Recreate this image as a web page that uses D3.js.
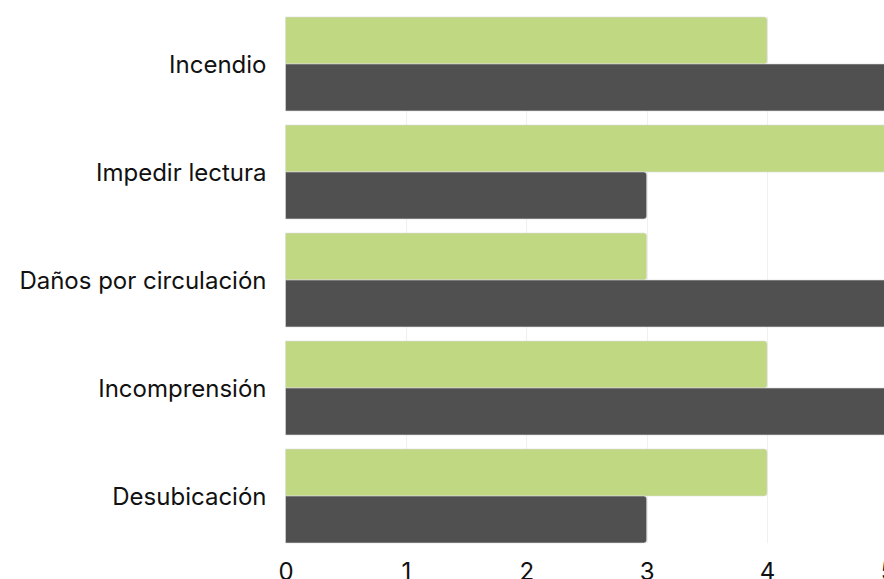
<!DOCTYPE html>
<html>
<head>
<meta charset="utf-8">
<script src="https://cdn.jsdelivr.net/npm/d3@7"></script>
<style>
  body { margin: 0; background: #fff; }
  text { font-family: Inter, "Noto Sans", sans-serif; }
</style>
</head>
<body>
<div id="chart"></div>
<script>

    const WIDTH = 884;
    const HEIGHT = 579;

    // chart data
    const categories = ["Incendio", "Impedir lectura", "Daños por circulación", "Incomprensión", "Desubicación"];
    const greenValues = [4, 5, 3, 4, 4];
    const darkValues = [5, 3, 5, 5, 3];
    const xTicks = [0, 1, 2, 3, 4, 5];

    const seriesKeys = ["green", "dark"];
    const seriesColor = {green: "#c0d882", dark: "#505050"};

    const rows = categories.map(function (c, i) {
        return {cat: c, green: greenValues[i], dark: darkValues[i]};
    });

    const svg = d3.select("#chart").append("svg")
        .attr("width", WIDTH)
        .attr("height", HEIGHT);

    const x = d3.scaleLinear().domain([0, 5]).range([285.5, 887.5]);
    const y = d3.scaleBand().domain(categories).range([17, 543]).paddingInner(0.13).paddingOuter(0);
    const ySub = d3.scaleBand().domain(seriesKeys).range([0, y.bandwidth()]);

    // faint gridlines
    svg.append("g")
        .selectAll("line")
        .data(xTicks.slice(1))
        .join("line")
        .attr("x1", d => Math.round(x(d)) + 0.5)
        .attr("x2", d => Math.round(x(d)) + 0.5)
        .attr("y1", 17)
        .attr("y2", 543)
        .attr("stroke", "#f0f0f0")
        .attr("stroke-width", 1);

    // rounded-right bar path
    function barPath(x0, y0, w, h, r) {
        r = Math.min(r, w, h / 2);
        return "M" + x0 + "," + y0 +
            "H" + (x0 + w - r) +
            "Q" + (x0 + w) + "," + y0 + " " + (x0 + w) + "," + (y0 + r) +
            "V" + (y0 + h - r) +
            "Q" + (x0 + w) + "," + (y0 + h) + " " + (x0 + w - r) + "," + (y0 + h) +
            "H" + x0 + "Z";
    }

    const groups = svg.append("g")
        .selectAll("g")
        .data(rows)
        .join("g")
        .attr("transform", d => "translate(0," + y(d.cat) + ")");

    groups.selectAll("path")
        .data(d => seriesKeys.map(k => ({key: k, value: d[k]})))
        .join("path")
        .attr("d", d => barPath(x(0), ySub(d.key), x(d.value) - x(0), ySub.bandwidth(), 3))
        .attr("fill", d => seriesColor[d.key])
        .attr("stroke", "#dcdcdc")
        .attr("stroke-width", 0.6);

    // y axis labels
    const yAxis = d3.axisLeft(y).tickSize(0).tickPadding(19);
    svg.append("g")
        .attr("transform", "translate(" + x(0) + ",1)")
        .call(yAxis)
        .call(g => g.select(".domain").remove())
        .selectAll("text")
        .attr("font-size", 24)
        .attr("fill", "#111")
        .style("font-family", "Inter, 'Noto Sans', sans-serif");

    // x axis labels
    const xAxis = d3.axisBottom(x).tickValues(xTicks).tickSize(0).tickPadding(20).tickFormat(d3.format("d"));
    svg.append("g")
        .attr("transform", "translate(0,543)")
        .call(xAxis)
        .call(g => g.select(".domain").remove())
        .selectAll("text")
        .attr("font-size", 24)
        .attr("fill", "#111")
        .style("font-family", "Inter, 'Noto Sans', sans-serif");

</script>
</body>
</html>
